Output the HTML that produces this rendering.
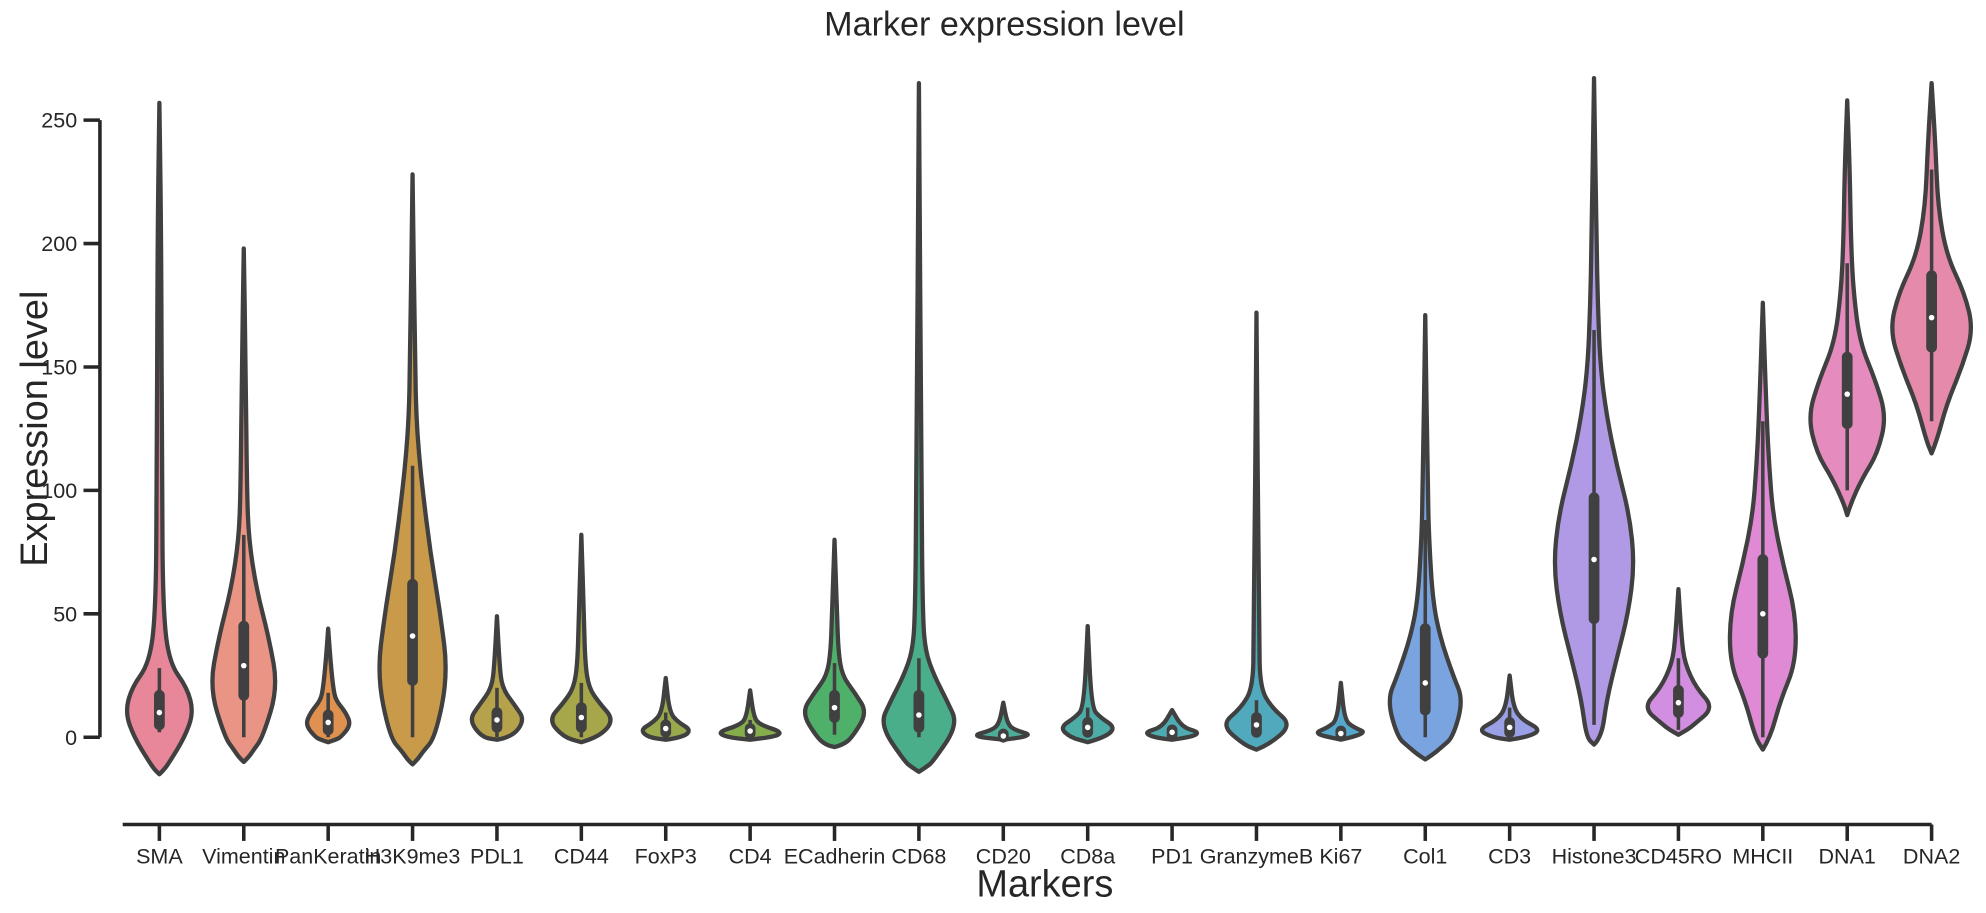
<!DOCTYPE html>
<html><head><meta charset="utf-8"><style>
html,body{margin:0;padding:0;background:#fff}
svg{display:block}
svg text{font-family:"Liberation Sans",Arial,sans-serif;fill:#262626}
</style></head><body>
<svg id="c" width="1986" height="913" viewBox="0 0 1570 722" preserveAspectRatio="none" xmlns="http://www.w3.org/2000/svg">
<text x="794" y="28" font-size="27" text-anchor="middle">Marker expression level</text>
<text transform="translate(37,339) rotate(-90)" font-size="30" text-anchor="middle">Expression level</text>
<text x="826" y="709" font-size="30" text-anchor="middle">Markers</text>
<g id="axes"></g><g id="violins"></g>
</svg>
<script>
const categories=["SMA","Vimentin","PanKeratin","H3K9me3","PDL1","CD44","FoxP3","CD4","ECadherin","CD68","CD20","CD8a","PD1","GranzymeB","Ki67","Col1","CD3","Histone3","CD45RO","MHCII","DNA1","DNA2"];
const colors=["#e8869a","#e99484","#e0914f","#c89a49","#b6a24b","#a6a64b","#98aa4b","#85ad4b","#4fb06a","#4bae8a","#4cad99","#4daca6","#4eabb2","#51a9be","#55a7cb","#7aa4e0","#99a0e6","#b09ae6","#d28ee0","#e08ad6","#e68bbe","#e68aac"];
// density profiles: [value, relative half-width]
const profiles=[
[[-15,0],[-13,4],[-10,8],[0,20],[10,27],[20,22],[30,8],[50,3],[100,2],[200,1.5],[257,0]],
[[-10,0],[-8,4],[-5,8],[0,15],[20,27],[40,20],[60,10],[80,4],[100,2.5],[150,1.5],[198,0]],
[[-2,0],[-1,6],[0,10],[5,18],[10,14],[15,6],[20,4],[30,2],[44,0]],
[[-11,0],[-9,4],[-6,8],[0,18],[25,28],[50,22],[75,14],[100,8],[115,5],[130,3],[150,2],[228,0]],
[[-1,0],[0,12],[7,22],[13,14],[20,4],[30,2],[49,0]],
[[-2,0],[0,14],[7,26],[14,14],[20,6],[30,3],[50,2],[82,0]],
[[-1,0],[0,14],[3,20],[6,10],[10,3],[24,0]],
[[-1,0],[0,18],[2,26],[5,8],[8,3],[19,0]],
[[-4,0],[-3,7],[0,14],[10,26],[18,16],[25,6],[35,3],[50,2],[80,0]],
[[-14,0],[-12,6],[-10,11],[5,31],[15,22],[25,12],[35,5],[50,3],[100,2],[265,0]],
[[-1,0],[0.5,26],[3,8],[6,3],[14,0]],
[[-2,0],[0,14],[4,22],[8,10],[12,3],[45,0]],
[[-1,0],[0,15],[2,22],[4,8],[11,0]],
[[-5,0],[-3,10],[5,28],[12,12],[20,3],[40,2],[172,0]],
[[-1,0],[1.5,22],[4,10],[7,3],[22,0]],
[[-9,0],[-7,6],[-4,13],[0,22],[15,30],[25,22],[40,12],[55,6],[80,3],[100,2],[171,0]],
[[-1,0],[0,14],[3,25],[7,10],[12,3],[25,0]],
[[-3,0],[0,6],[15,10],[30,17],[50,27],[70,32],[90,28],[110,18],[130,10],[150,5],[175,3],[200,2],[267,0]],
[[1,0],[3,7],[5,12],[12,28],[20,14],[30,5],[40,2.5],[60,0]],
[[-5,0],[0,6],[15,14],[30,26],[50,26],[70,16],[90,8],[110,5],[130,3],[176,0]],
[[90,0],[95,3],[105,12],[115,24],[130,31],[145,22],[160,10],[180,5],[200,3],[230,2],[258,0]],
[[115,0],[120,4],[135,12],[150,24],[165,33],[180,26],[195,12],[215,5],[240,3],[265,0]]
];
// box stats
const whiskLow=[2,0,0,0,0,0,0,0,1,0,0,0,0,0,0,0,0,5,3,0,100,128];
const q1=[5,17,3,23,4,4,2,1.5,8,4,0,2,1,2,1,11,2,48,10,34,127,158];
const medians=[10,29,6,41,7,8,3.5,2.5,12,9,0.5,4,2,5,1.5,22,4,72,14,50,139,170];
const q3=[17,45,9,62,10,12,5,3.5,17,17,1.3,6,3,8,2.5,44,6,97,19,72,154,187];
const whiskHigh=[28,82,18,110,20,22,10,7,30,32,3,12,4,15,4,88,12,165,32,128,192,230];
const yTicks=[0,50,100,150,200,250];

const NS="http://www.w3.org/2000/svg";
const y=v=>583-v*488/250;
const x=i=>126+i*(1527-126)/21;
function mk(t,a,p){const e=document.createElementNS(NS,t);for(const k in a)e.setAttribute(k,a[k]);p.appendChild(e);return e;}
const ax=document.getElementById('axes');
let yl=mk('line',{x1:79,y1:y(250),x2:79,y2:y(0),stroke:'#262626','stroke-width':2.8},ax);


yTicks.forEach(t=>{
 let l=mk('line',{x1:66,x2:79,y1:y(t),y2:y(t),stroke:'#262626','stroke-width':2.8},ax);
 
 
 let tx=mk('text',{x:61,y:y(t)+6,'font-size':17,'text-anchor':'end'},ax);tx.textContent=t;
 
 
});
let xl=mk('line',{x1:97,y1:652,x2:x(21),y2:652,stroke:'#262626','stroke-width':2.8},ax);


const vg=document.getElementById('violins');
categories.forEach((c,i)=>{
 const cx=x(i);
 let l=mk('line',{x1:cx,x2:cx,y1:652,y2:665,stroke:'#262626','stroke-width':2.8},ax);
 
 
 let tx=mk('text',{x:cx,y:683,'font-size':17,'text-anchor':'middle'},ax);tx.textContent=c;
 
 
 const pr=profiles[i];
 const right=pr.map(p=>[cx+p[1],y(p[0])]);
 const left=pr.slice().reverse().map(p=>[cx-p[1],y(p[0])]);
 const pts=right.concat(left);
 let d='M'+pts[0][0]+','+pts[0][1];
 for(let k=1;k<pts.length-1;k++){
  const mx=(pts[k][0]+pts[k+1][0])/2,my=(pts[k][1]+pts[k+1][1])/2;
  d+=' Q'+pts[k][0]+','+pts[k][1]+' '+mx+','+my;
 }
 d+=' L'+pts[pts.length-1][0]+','+pts[pts.length-1][1]+'Z';
 const g=mk('g',{},vg);
 
 
 mk('path',{d:d,fill:colors[i],stroke:'#404040','stroke-width':3.4,'stroke-linejoin':'round'},g);
 mk('line',{x1:cx,x2:cx,y1:y(whiskLow[i]),y2:y(whiskHigh[i]),stroke:'#404040','stroke-width':2.8},g);
 mk('line',{x1:cx,x2:cx,y1:y(q1[i]),y2:y(q3[i]),stroke:'#404040','stroke-width':8.5,'stroke-linecap':'round'},g);
 mk('circle',{cx:cx,cy:y(medians[i]),r:2.2,fill:'#fff'},g);
});
</script>
</body></html>
